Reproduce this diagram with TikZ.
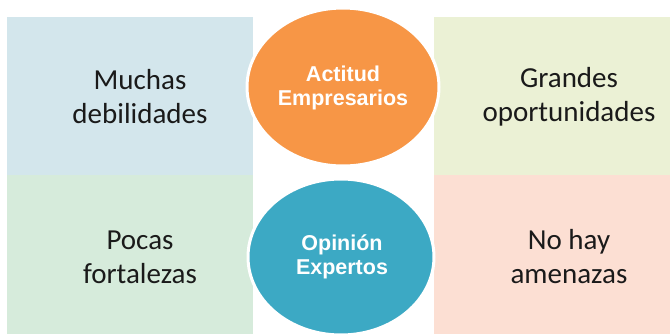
\documentclass[tikz,border=0pt]{standalone}
\usepackage{fontspec}
\setmainfont{Carlito}
\newfontfamily\circfont{Liberation Sans}
\usetikzlibrary{shapes.geometric}
\definecolor{boxTL}{HTML}{D3E6EC}
\definecolor{boxBL}{HTML}{D6EBDB}
\definecolor{boxTR}{HTML}{EBF1D5}
\definecolor{boxBR}{HTML}{FCDFD3}
\definecolor{orangeC}{HTML}{F79646}
\definecolor{blueC}{HTML}{3CA9C4}
\definecolor{txt}{HTML}{1A1A1A}
\begin{document}
\begin{tikzpicture}[x=1pt,y=-1pt,
  quad/.style={fill=#1,draw=none},
  boxtext/.style={text=txt,align=center,font=\fontsize{29}{34}\selectfont,inner sep=0pt},
  circ/.style={ellipse,fill=#1,draw=white,line width=3pt,inner sep=0pt},
  circtext/.style={text=white,align=center,font=\circfont\bfseries\fontsize{21.5}{24.5}\selectfont,inner sep=0pt}]
\useasboundingbox (0,0) rectangle (670,335);
\fill[white] (0,0) rectangle (670,335);
\path[quad=boxTL] (7,17) rectangle (253,175);
\path[quad=boxBL] (7,175) rectangle (253,334);
\path[quad=boxTR] (434,17) rectangle (670,175);
\path[quad=boxBR] (434,175) rectangle (670,334);
\node[boxtext] (tl) at (140,97) {Muchas\\debilidades};
\node[boxtext] (bl) at (140,257) {Pocas\\fortalezas};
\node[boxtext] (tr) at (569,97) {Grandes\\oportunidades};
\node[boxtext] (br) at (569,257) {No hay\\amenazas};
\node[circ=orangeC,minimum width=192pt,minimum height=158pt] (oc) at (343,87) {};
\node[circ=blueC,minimum width=186pt,minimum height=156pt] (bc) at (341,257) {};
\node[circtext] (ot) at (343,88) {Actitud\\Empresarios};
\node[circtext] (bt) at (342,257) {Opinión\\Expertos};
\end{tikzpicture}
\end{document}
